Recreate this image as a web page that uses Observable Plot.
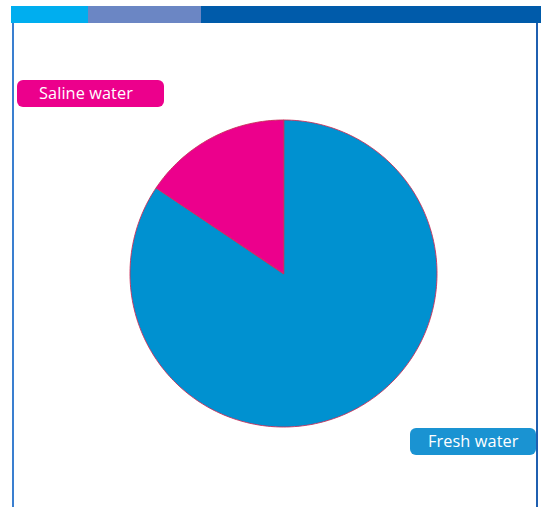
<!DOCTYPE html>
<html>
<head>
<meta charset="utf-8">
<script src="https://cdn.jsdelivr.net/npm/d3@7"></script>
<script src="https://cdn.jsdelivr.net/npm/@observablehq/plot@0.6"></script>
<style>
  html, body { margin: 0; padding: 0; background: #fff; }
  #wrap { position: relative; width: 541px; height: 507px; overflow: hidden; background: #fff; font-family: "Open Sans", "Noto Sans", sans-serif; }
  .bar { position: absolute; top: 6px; height: 17px; }
  .vline { position: absolute; top: 23px; bottom: 0; }
  .label { position: absolute; color: #fff; font-size: 16.3px; line-height: 27px; height: 27px; border-radius: 6px; box-sizing: border-box; padding-left: 22px; white-space: nowrap; letter-spacing: 0.1px; }
  #chart { position: absolute; left: 0; top: 0; }
</style>
</head>
<body>
<div id="wrap">
  <div class="bar" style="left:11px;width:77px;background:#00aeef"></div>
  <div class="bar" style="left:88px;width:113px;background:#6b86c4"></div>
  <div class="bar" style="left:201px;width:340px;background:#005baa"></div>
  <div class="vline" style="left:12px;width:1.5px;background:#3a7fd0"></div>
  <div class="vline" style="left:536px;width:2px;background:#1f5fb0"></div>
  <div id="chart"></div>
  <div class="label" style="left:17px;top:80px;width:147px;background:#ec008c">Saline water</div>
  <div class="label" style="left:410px;top:428px;width:126px;background:#1a93d2;padding-left:18px">Fresh water</div>
</div>
<script>
const categories = ["Fresh water", "Saline water"];
const shares = [84.4, 15.6];
const colors = ["#0091d0", "#ec008c"];

const pie = d3.pie().sort(null).value(d => d)(shares);
const slices = pie.map((p, i) => {
  const pts = [{name: categories[i], x: 0, y: 0}];
  const n = Math.max(2, Math.ceil((p.endAngle - p.startAngle) / (Math.PI / 180)));
  for (let k = 0; k <= n; k++) {
    const a = p.startAngle + (p.endAngle - p.startAngle) * k / n;
    pts.push({name: categories[i], x: Math.sin(a), y: Math.cos(a)});
  }
  return pts;
});

const W = 541, H = 507, cx = 283, cy = 273, R = 153.5;
const chart = Plot.plot({
  width: W,
  height: H,
  margin: 0,
  x: {domain: [-cx / R, (W - cx) / R], axis: null},
  y: {domain: [-(H - cy) / R, cy / R], axis: null},
  marks: slices.map((pts, i) =>
    Plot.line(pts, {x: "x", y: "y", fill: colors[i], stroke: "#c8305a", strokeWidth: 0.9, curve: "linear-closed"})
  )
});
chart.style.background = "transparent";
document.getElementById("chart").appendChild(chart);
</script>
</body>
</html>
